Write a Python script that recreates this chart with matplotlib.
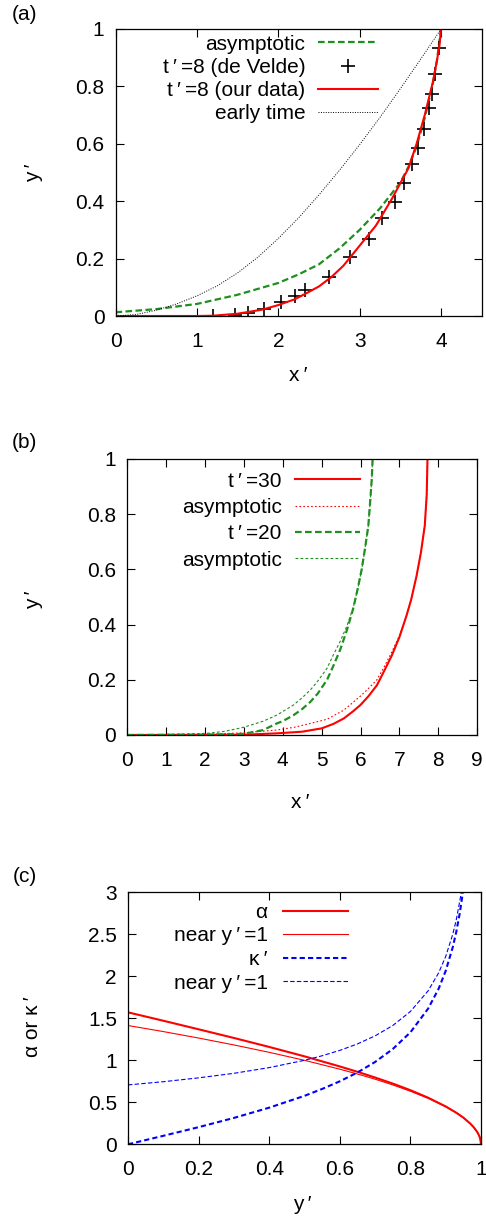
import matplotlib.pyplot as plt

plt.switch_backend("Agg")
plt.rcParams["font.family"] = ["Liberation Sans", "DejaVu Sans"]
plt.rcParams["font.size"] = 15

P = "\u2009\u2032"  # prime as drawn by gnuplot

# ---- panel (a): t'=8 ----
asym_a_x = [0, 0.5, 1.0, 1.5, 2.0, 2.25, 2.5, 2.75, 3.0, 3.25, 3.5, 3.6, 3.7, 3.8, 3.9, 3.95, 4.0]
asym_a_y = [0.013, 0.024, 0.042, 0.074, 0.115, 0.145, 0.18, 0.235, 0.30, 0.375, 0.465, 0.52,
            0.59, 0.69, 0.81, 0.89, 1.0]

velde_x = [0, 1.20, 1.47, 1.63, 1.83, 2.03, 2.21, 2.33, 2.62, 2.88, 3.11, 3.28, 3.43, 3.55,
           3.64, 3.72, 3.79, 3.85, 3.89, 3.92, 3.97, 4.00]
velde_y = [0, 0, 0.003, 0.012, 0.024, 0.048, 0.071, 0.091, 0.135, 0.204, 0.269, 0.340, 0.398,
           0.465, 0.528, 0.584, 0.650, 0.724, 0.773, 0.843, 0.933, 1.0]

ours_x = [0, 1.0, 1.2, 1.5, 1.8, 2.0, 2.2, 2.35, 2.5, 2.65, 2.8, 3.0, 3.2, 3.4, 3.6, 3.7, 3.8,
          3.9, 3.95, 3.98, 4.0]
ours_y = [0, 0, 0.001, 0.008, 0.022, 0.038, 0.058, 0.08, 0.103, 0.135, 0.175, 0.245, 0.315,
          0.41, 0.515, 0.6, 0.7, 0.815, 0.89, 0.94, 1.0]

early_x = [0, 0.25, 0.5, 0.75, 1.0, 1.25, 1.5, 1.75, 2.0, 2.25, 2.5, 2.75, 3.0, 3.25, 3.5,
           3.75, 4.0]
early_y = [0, 0.005, 0.02, 0.042, 0.07, 0.105, 0.15, 0.205, 0.27, 0.342, 0.422, 0.507, 0.597,
           0.692, 0.792, 0.895, 1.0]

# ---- panel (b): t'=30 and t'=20 ----
t30_x = [0, 3.0, 3.85, 4.5, 5.0, 5.3, 5.57, 5.8, 6.0, 6.2, 6.42, 6.6, 6.8, 7.0, 7.18, 7.3,
         7.44, 7.55, 7.65, 7.7, 7.71, 7.72]
t30_y = [0, 0.001, 0.006, 0.012, 0.024, 0.04, 0.06, 0.085, 0.109, 0.14, 0.18, 0.23, 0.287,
         0.355, 0.432, 0.49, 0.577, 0.66, 0.758, 0.87, 0.93, 1.0]
a30_x = [0, 2.0, 3.0, 3.85, 4.3, 4.71, 5.14, 5.57, 5.99, 6.2, 6.42, 6.6, 6.8, 7.0, 7.18, 7.3,
         7.44, 7.55, 7.65, 7.7, 7.71, 7.72]
a30_y = [0, 0.002, 0.008, 0.018, 0.028, 0.042, 0.057, 0.09, 0.14, 0.168, 0.2, 0.245, 0.3, 0.36,
         0.432, 0.49, 0.577, 0.66, 0.758, 0.87, 0.93, 1.0]
t20_x = [0, 2.0, 3.0, 3.5, 3.85, 4.0, 4.28, 4.5, 4.71, 4.9, 5.14, 5.3, 5.48, 5.65, 5.81, 5.92,
         6.03, 6.12, 6.2, 6.25, 6.29, 6.31]
t20_y = [0, 0.001, 0.004, 0.018, 0.042, 0.05, 0.072, 0.094, 0.12, 0.15, 0.2, 0.25, 0.31, 0.38,
         0.457, 0.525, 0.6, 0.68, 0.758, 0.85, 0.93, 1.0]
a20_x = [0, 1.0, 2.05, 2.5, 3.0, 3.5, 3.85, 4.28, 4.5, 4.71, 4.9, 5.14, 5.3, 5.48, 5.65, 5.81,
         5.92, 6.03, 6.12, 6.2, 6.25, 6.29, 6.31]
a20_y = [0, 0.002, 0.006, 0.013, 0.028, 0.05, 0.072, 0.109, 0.135, 0.163, 0.195, 0.242, 0.29,
         0.34, 0.395, 0.46, 0.525, 0.6, 0.68, 0.758, 0.85, 0.93, 1.0]

# ---- panel (c): alpha and kappa' vs y' ----
yc = [0, 0.1, 0.2, 0.3, 0.4, 0.5, 0.6, 0.65, 0.7, 0.75, 0.8, 0.85, 0.9, 0.93, 0.95, 0.97,
      0.98, 0.99, 0.995, 0.998, 1.0]
alpha = [1.571, 1.471, 1.369, 1.266, 1.159, 1.047, 0.927, 0.863, 0.795, 0.723, 0.644, 0.555,
         0.451, 0.376, 0.318, 0.245, 0.200, 0.142, 0.100, 0.063, 0.0]
alpha_near = [1.414, 1.342, 1.265, 1.183, 1.095, 1.0, 0.894, 0.837, 0.775, 0.707, 0.632, 0.548,
              0.447, 0.374, 0.316, 0.245, 0.2, 0.141, 0.1, 0.063, 0.0]
yk = [0, 0.1, 0.2, 0.3, 0.4, 0.5, 0.55, 0.6, 0.65, 0.7, 0.75, 0.8, 0.85, 0.88, 0.9, 0.92,
      0.93, 0.94, 0.9487]
kappa = [0, 0.101, 0.204, 0.314, 0.436, 0.577, 0.659, 0.75, 0.855, 0.980, 1.134, 1.333, 1.614,
         1.852, 2.065, 2.347, 2.530, 2.755, 3.0]
ykn = [0, 0.1, 0.2, 0.3, 0.4, 0.5, 0.55, 0.6, 0.65, 0.7, 0.75, 0.8, 0.85, 0.88, 0.9, 0.92,
       0.93, 0.9444]
kappa_near = [0.707, 0.745, 0.791, 0.845, 0.913, 1.0, 1.054, 1.118, 1.195, 1.291, 1.414, 1.581,
              1.826, 2.041, 2.236, 2.5, 2.673, 3.0]

GREEN = "#1f8f1f"

fig = plt.figure(figsize=(4.86, 12.23), dpi=100)
W, H = 486.0, 1223.0


def make_axes(left, right, top, bottom):
    return fig.add_axes([left / W, 1 - bottom / H, (right - left) / W, (bottom - top) / H])


def style(ax):
    ax.tick_params(direction="in", length=6, width=0.8, top=True, right=True, labelsize=15)
    ax.tick_params(axis="y", pad=8)
    ax.tick_params(axis="x", pad=11.5)
    for s in ax.spines.values():
        s.set_linewidth(0.9)


legkw = dict(frameon=False, markerfirst=False, loc="upper right", borderpad=0,
             borderaxespad=0, fontsize=15, numpoints=1)

# (a)
ax = make_axes(115.5, 481.7, 29, 316)
ax.plot(asym_a_x, asym_a_y, color=GREEN, lw=1.6, ls=(0, (3, 1.5)), label="asymptotic")
ax.plot(velde_x, velde_y, ls="none", marker="+", ms=10, mew=1.2, color="black",
        label="t" + P + "\u2009=8 (de Velde)")
ax.plot(ours_x, ours_y, color="red", lw=1.5, label="t" + P + "\u2009=8 (our data)")
ax.plot(early_x, early_y, color="black", lw=0.7, ls=(0, (1, 1.5)), label="early time")
ax.set_xlim(0, 4.5)
ax.set_ylim(0, 1)
ax.set_xticks([0, 1, 2, 3, 4])
ax.set_yticks([0, 0.2, 0.4, 0.6, 0.8, 1])
ax.set_yticklabels(["0", "0.2", "0.4", "0.6", "0.8", "1"])
style(ax)
ax.legend(bbox_to_anchor=(0.717, 0.98), handlelength=2.9, handletextpad=0.6,
          labelspacing=0.2, **legkw)
fig.text(12 / W, 1 - 14 / H, "(a)", fontsize=15, va="center")
fig.text(34 / W, 1 - 173 / H, "y" + P, fontsize=15, rotation=90, ha="center", va="center")
fig.text(298 / W, 1 - 375 / H, "x" + P, fontsize=15, ha="center", va="center")

# (b)
ax = make_axes(127, 477.3, 459, 735)
ax.plot(t30_x, t30_y, color="red", lw=1.5, label="t" + P + "\u2009=30")
ax.plot(a30_x, a30_y, color="red", lw=0.8, ls=(0, (1.5, 2)), label="asymptotic")
ax.plot(t20_x, t20_y, color=GREEN, lw=1.6, ls=(0, (3, 1.5)), label="t" + P + "\u2009=20")
ax.plot(a20_x, a20_y, color=GREEN, lw=0.8, ls=(0, (2.5, 2)), label="asymptotic")
ax.set_xlim(0, 9)
ax.set_ylim(0, 1)
ax.set_xticks(range(10))
ax.set_yticks([0, 0.2, 0.4, 0.6, 0.8, 1])
ax.set_yticklabels(["0", "0.2", "0.4", "0.6", "0.8", "1"])
style(ax)
ax.legend(bbox_to_anchor=(0.665, 0.954), handlelength=3.1, handletextpad=0.65,
          labelspacing=0.35, **legkw)
fig.text(12 / W, 1 - 442 / H, "(b)", fontsize=15, va="center")
fig.text(34 / W, 1 - 600 / H, "y" + P, fontsize=15, rotation=90, ha="center", va="center")
fig.text(300 / W, 1 - 802 / H, "x" + P, fontsize=15, ha="center", va="center")

# (c)
ax = make_axes(128, 481, 892.3, 1144.3)
ax.plot(yc, alpha, color="red", lw=1.5, label="\u03b1")
ax.plot(yc, alpha_near, color="red", lw=0.8, label="near y" + P + "\u2009=1")
ax.plot(yk, kappa, color="blue", lw=1.5, ls=(0, (2.5, 1.5)), label="\u03ba" + P)
ax.plot(ykn, kappa_near, color="blue", lw=0.8, ls=(0, (4, 2)), label="near y" + P + "\u2009=1")
ax.set_xlim(0, 1)
ax.set_ylim(0, 3)
ax.set_xticks([0, 0.2, 0.4, 0.6, 0.8, 1])
ax.set_xticklabels(["0", "0.2", "0.4", "0.6", "0.8", "1"])
ax.set_yticks([0, 0.5, 1, 1.5, 2, 2.5, 3])
ax.set_yticklabels(["0", "0.5", "1", "1.5", "2", "2.5", "3"])
style(ax)
ax.legend(bbox_to_anchor=(0.623, 0.958), handlelength=3.1, handletextpad=0.75,
          labelspacing=0.22, **legkw)
fig.text(13 / W, 1 - 877 / H, "(c)", fontsize=15, va="center")
fig.text(33 / W, 1 - 1027 / H, "\u03b1 or \u03ba" + P, fontsize=15, rotation=90,
         ha="center", va="center")
fig.text(302 / W, 1 - 1205 / H, "y" + P, fontsize=15, ha="center", va="center")

fig.savefig("out.png", dpi=100)
plt.close(fig)
